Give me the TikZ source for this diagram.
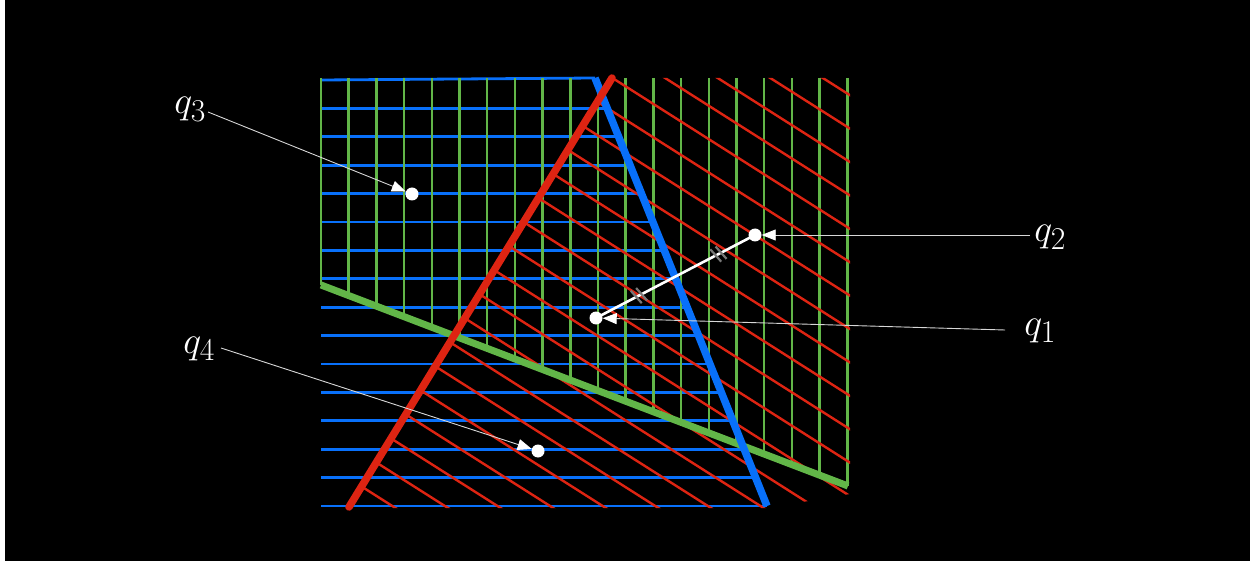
\documentclass[tikz,border=0pt]{standalone}
\usetikzlibrary{arrows.meta,decorations.markings}
\definecolor{hblue}{RGB}{8,112,250}
\definecolor{hred}{RGB}{222,36,18}
\definecolor{hgreen}{RGB}{98,182,72}
\definecolor{ptrgray}{RGB}{215,215,215}
\definecolor{tickgray}{RGB}{120,120,120}
\begin{document}
\begin{tikzpicture}[x=1pt,y=-1pt,
  bhatch/.style={hblue,line width=2.8pt},
  ghatch/.style={hgreen,line width=2.5pt},
  rhatch/.style={hred,line width=2.4pt},
  bline/.style={hblue,line width=7.5pt},
  rline/.style={hred,line width=7.5pt,line cap=round},
  gline/.style={hgreen,line width=7pt},
  dot/.style={circle,fill=white,inner sep=0pt,minimum size=13pt},
  seg/.style={white,line width=2.6pt},
  tickmark/.style={tickgray,line width=2.2pt},
  ptr/.style={ptrgray,line width=0.9pt,-{Triangle[length=14pt,width=11pt,color=white]}},
  lbl/.style={text=white,inner sep=0pt,font=\Huge,scale=1.53}
]
\useasboundingbox (0,0) rectangle (1250,561);
\fill[white] (0,0) rectangle (1250,561);
\fill[black] (5,0) rectangle (1250,561);

% blue hatch (horizontal)
\draw[bhatch] (321,80) -- (595,78);
\foreach \k in {1,...,15}{
  \pgfmathsetmacro\yy{80+28.4*\k}
  \pgfmathsetmacro\xr{595+0.40187*(\yy-78)}
  \draw[bhatch] (321,\yy) -- (\xr,\yy);
}

% green hatch (vertical)
\foreach \i in {0,...,19}{
  \pgfmathsetmacro\xx{321+27.7*\i}
  \pgfmathsetmacro\yb{285+0.3814*(\xx-321)}
  \draw[ghatch] (\xx,78) -- (\xx,\yb);
}

% red hatch (diagonal)
\begin{scope}
  \clip (349,508) -- (612,78) -- (850,78) -- (850,494) -- (767,508) -- cycle;
  \foreach \k in {0,...,22}{
    \pgfmathsetmacro\cc{-444.5+33.4*\k}
    \draw[rhatch] (300,{0.635*300+\cc}) -- (900,{0.635*900+\cc});
  }
\end{scope}

% boundary lines
\draw[gline] (321,285) -- (848,486);
\draw[bline] (595,78) -- (767,506);
\draw[rline] (349,507) -- (612,78);

% points
\node[dot] (p1) at (596,318) {};
\node[dot] (p2) at (755,235) {};
\node[dot] (p3) at (412,194) {};
\node[dot] (p4) at (538,451) {};

% segment with tick marks
\draw[seg,
  decoration={markings,
    mark=at position 0.27 with {\draw[tickmark] (-5,-8) -- (-1,8) (1,-8) -- (5,8);},
    mark=at position 0.77 with {\draw[tickmark] (-5,-8) -- (-1,8) (1,-8) -- (5,8);}},
  postaction=decorate] (p1.center) -- (p2.center);

% labels
\node[lbl,anchor=base west] (l1) at (1024,335) {$q_1$};
\node[lbl,anchor=base west] (l2) at (1034,242) {$q_2$};
\node[lbl,anchor=base west] (l3) at (174,114) {$q_3$};
\node[lbl,anchor=base west] (l4) at (183,353) {$q_4$};

% pointer lines
\coordinate (s1) at (1005,330);
\coordinate (s2) at (1030,235);
\coordinate (s3) at (208,112);
\coordinate (s4) at (221,348);
\draw[ptr] (s1) -- (p1);
\draw[ptr] (s2) -- (p2);
\draw[ptr] (s3) -- (p3);
\draw[ptr] (s4) -- (p4);
\end{tikzpicture}
\end{document}
